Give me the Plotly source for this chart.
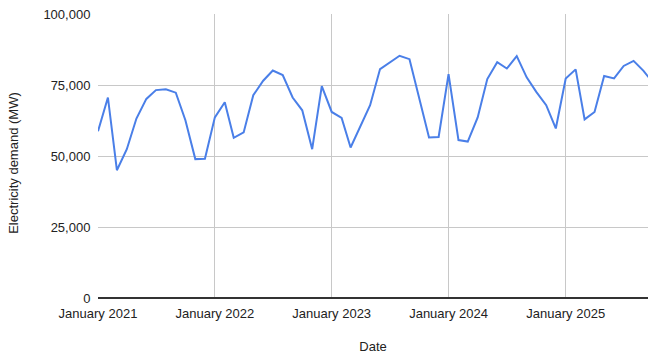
import pandas as pd
import plotly.graph_objects as go

# Monthly electricity demand, January 2021 onward (MW)
months = pd.date_range("2021-01-01", periods=58, freq="MS")
demand_mw = [
    58700, 70600, 45000, 52400, 63200, 70100, 73200, 73500, 72300, 62600, 48900, 49000,
    63600, 68900, 56400, 58300, 71400, 76500, 80100, 78500, 70600, 66100, 52400, 74600,
    65500, 63400, 53000, 60300, 67900, 80600, 82800, 85300, 84100, 70300, 56500, 56700,
    78800, 55600, 55100, 63600, 77100, 83000, 80800, 85200, 77700, 72600, 67900, 59700,
    77300, 80500, 62900, 65500, 78200, 77300, 81700, 83500, 80000, 75700,
]

year_ticks = ["2021-01-01", "2022-01-01", "2023-01-01", "2024-01-01", "2025-01-01"]
year_labels = ["January 2021", "January 2022", "January 2023", "January 2024", "January 2025"]
demand_ticks = [0, 25000, 50000, 75000, 100000]

TEXT = "#222222"
FONT = "Liberation Sans, Arial, sans-serif"

fig = go.Figure(
    go.Scatter(
        x=months,
        y=demand_mw,
        mode="lines",
        line=dict(color="#4a7fe8", width=2),
        hoverinfo="x+y",
    )
)

fig.update_layout(
    width=648,
    height=355,
    margin=dict(l=98, r=0, t=14, b=57),
    paper_bgcolor="white",
    plot_bgcolor="white",
    showlegend=False,
    font=dict(family=FONT, size=13, color=TEXT),
    annotations=[
        dict(
            text="Electricity demand (MW)",
            textangle=-90,
            xref="paper", yref="paper",
            x=0, y=0.476,
            xanchor="center", yanchor="middle",
            xshift=-84,
            showarrow=False,
            font=dict(family=FONT, size=13, color=TEXT),
        )
    ],
)

fig.update_xaxes(
    range=["2021-01-01", "2025-09-15"],
    tickvals=year_ticks,
    ticktext=year_labels,
    showgrid=True,
    gridcolor="#c8c8c8",
    gridwidth=1,
    showline=False,
    zeroline=False,
    ticks="outside",
    ticklen=3,
    tickcolor="rgba(0,0,0,0)",
    tickfont=dict(size=13, color=TEXT),
    title=dict(text="Date", standoff=22, font=dict(size=13, color=TEXT)),
)

fig.update_yaxes(
    range=[0, 100000],
    tickvals=demand_ticks,
    tickformat=",",
    showgrid=True,
    gridcolor="#c8c8c8",
    gridwidth=1,
    zeroline=True,
    zerolinecolor="#333333",
    zerolinewidth=2,
    showline=False,
    ticks="outside",
    ticklen=4,
    tickcolor="rgba(0,0,0,0)",
    tickfont=dict(size=13, color=TEXT),
)

fig.write_html("out.html")
